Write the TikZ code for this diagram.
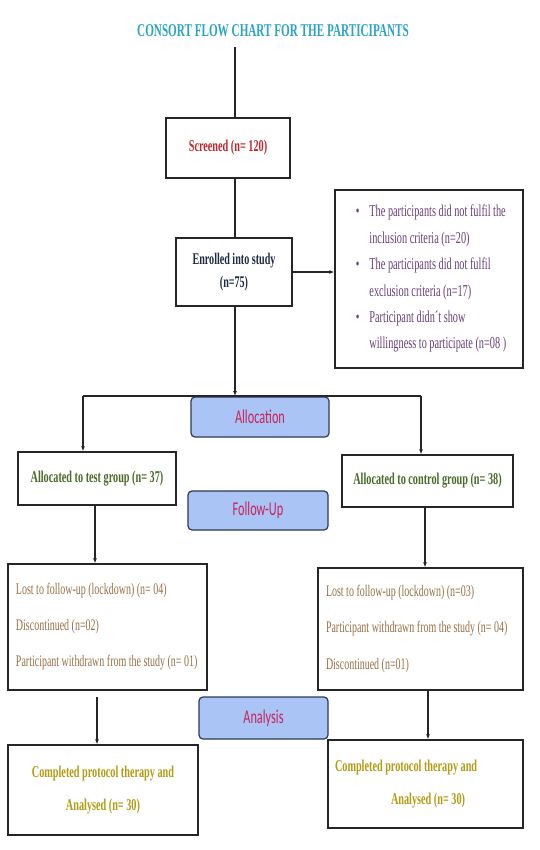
\documentclass[tikz,border=0pt]{standalone}
\usepackage{fontspec}
\usetikzlibrary{arrows.meta}
\setmainfont{Liberation Serif}
\newfontfamily\tnr[FakeStretch=0.62]{Liberation Serif}
\newfontfamily\calf[FakeStretch=0.63]{Carlito}
\definecolor{titlec}{HTML}{2AA3C6}
\definecolor{redc}{HTML}{C0272D}
\definecolor{navyc}{HTML}{1F2A44}
\definecolor{purplec}{HTML}{6B3F7A}
\definecolor{pinkc}{HTML}{C8245A}
\definecolor{bluefill}{HTML}{A9C4F5}
\definecolor{blueedge}{HTML}{2B3A55}
\definecolor{greenc}{HTML}{4A6B2A}
\definecolor{brownc}{HTML}{9A7045}
\definecolor{goldc}{HTML}{B39B14}
\begin{document}
\begin{tikzpicture}[x=1pt,y=-1pt,
  box/.style={draw=black!85, line width=1.3pt, inner sep=0pt, fill=white},
  phase/.style={draw=blueedge, line width=1.2pt, fill=bluefill, rounded corners=4pt, inner sep=0pt,
     text=pinkc, font=\calf\fontsize{19.5}{22}\selectfont},
  conn/.style={line width=1.3pt, draw=black!85},
  arr/.style={conn, -{Latex[length=5pt,width=4pt]}}
]
\useasboundingbox (0,0) rectangle (539,850);
\node[text=titlec, font=\tnr\bfseries\fontsize{18}{20}\selectfont] (title) at (273,31) {CONSORT FLOW CHART FOR THE PARTICIPANTS};
\coordinate (t0) at (235,47);
\node[box, minimum width=124pt, minimum height=60pt, text=redc, font=\tnr\bfseries\fontsize{16.5}{19}\selectfont] (scr) at (228,148) {Screened (n= 120)};
\node[box, minimum width=116pt, minimum height=68pt, text=navyc, font=\tnr\bfseries\fontsize{16.3}{23}\selectfont, align=center] (enr) at (234,272) {Enrolled into study\\(n=75)};
\node[box, minimum width=188pt, minimum height=178pt, text=purplec, font=\tnr\fontsize{16.6}{19}\selectfont] (side) at (429,279)
 {\hspace{4pt}\begin{tabular}{@{}l@{\hspace{10pt}}l@{}}
  \textbullet & The participants did not fulfil the\\[7.4pt]
   & inclusion criteria (n=20)\\[7.4pt]
  \textbullet & The participants did not fulfil\\[7.4pt]
   & exclusion criteria (n=17)\\[7.4pt]
  \textbullet & Participant didn´t show\\[7.4pt]
   & willingness to participate (n=08 )
 \end{tabular}};
\coordinate (split) at (235,396);
\coordinate (sl) at (83,396);
\coordinate (sr) at (421,396);
\node[phase, minimum width=138pt, minimum height=40pt] (alloc) at (260,417) {Allocation};
\node[box, minimum width=158pt, minimum height=53pt, text=greenc, font=\tnr\bfseries\fontsize{16.5}{19}\selectfont] (test) at (97,478.5) {Allocated to test group (n= 37)\hspace{8pt}};
\node[box, minimum width=171pt, minimum height=52pt, text=greenc, font=\tnr\bfseries\fontsize{16.5}{19}\selectfont] (ctrl) at (427.5,481) {Allocated to control group (n= 38)};
\node[phase, minimum width=140pt, minimum height=39pt] (fu) at (258,510.5) {Follow-Up};
\node[box, minimum width=199pt, minimum height=126pt, text=brownc, font=\tnr\fontsize{16.1}{19}\selectfont, align=left] (lfu) at (107.5,627)
 {\makebox[183pt][l]{Lost to follow-up (lockdown) (n= 04)}\\[17pt]Discontinued (n=02)\\[17pt]Participant withdrawn from the study (n= 01)};
\node[box, minimum width=205pt, minimum height=122pt, text=brownc, font=\tnr\fontsize{16.1}{19}\selectfont, align=left] (rfu) at (420.5,629)
 {\makebox[189pt][l]{Lost to follow-up (lockdown) (n=03)}\\[17.5pt]Participant withdrawn from the study (n= 04)\\[17.5pt]Discontinued (n=01)};
\node[phase, minimum width=129pt, minimum height=42pt] (ana) at (263.5,718) {Analysis};
\node[box, minimum width=190pt, minimum height=90pt, text=goldc, font=\tnr\bfseries\fontsize{16.5}{19}\selectfont, align=center] (lan) at (103,790)
 {Completed protocol therapy and\\[14pt]Analysed (n= 30)};
\node[box, minimum width=195pt, minimum height=88pt, text=goldc, font=\tnr\bfseries\fontsize{16.5}{19}\selectfont, align=left] (ran) at (425.5,784)
 {\makebox[181pt][l]{Completed protocol therapy and}\\[14pt]\hspace{56pt}Analysed (n= 30)};
% connectors
\draw[conn] (t0) -- (t0 |- scr.north);
\draw[conn] (scr.south -| t0) -- (enr.north -| t0);
\draw[arr] (enr.east) -- (side.west |- enr.east);
\draw[arr] (enr.south -| split) -- (split);
\draw[conn] (sl) -- (sr);
\draw[arr] (sl) -- (sl |- test.north);
\draw[arr] (sr) -- (sr |- ctrl.north);
\coordinate (lt) at (95,505);
\draw[arr] (test.south -| lt) -- (lfu.north -| lt);
\coordinate (rt) at (425,507);
\draw[arr] (ctrl.south -| rt) -- (rfu.north -| rt);
\coordinate (la) at (97,697);
\draw[arr] (la) -- (la |- lan.north) ;
\coordinate (ra) at (428,690);
\draw[arr] (rfu.south -| ra) -- (ran.north -| ra);
\end{tikzpicture}
\end{document}
